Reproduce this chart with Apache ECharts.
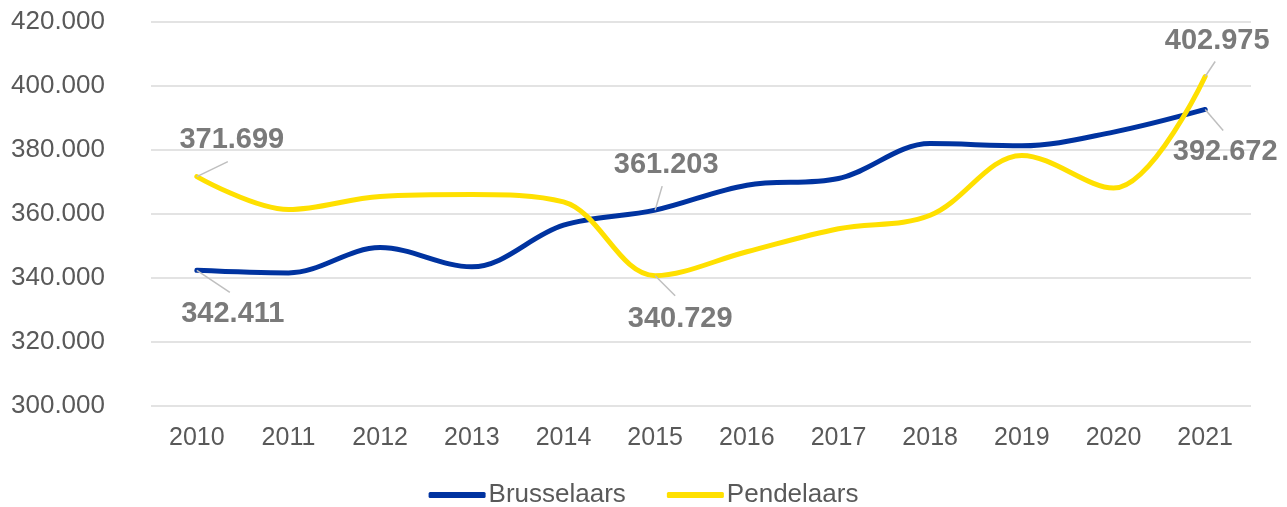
<!DOCTYPE html>
<html>
<head>
<meta charset="utf-8">
<script src="https://cdn.jsdelivr.net/npm/echarts@6/dist/echarts.min.js"></script>
<style>
html,body{margin:0;padding:0;background:#fff;}
#chart{width:1287px;height:507px;}
</style>
</head>
<body>
<div id="chart"></div>
<script>
const years = ['2010','2011','2012','2013','2014','2015','2016','2017','2018','2019','2020','2021'];
const brusselaars = [342.411, 341.6, 349.5, 343.5, 356.5, 361.203, 369.0, 371.1, 382.0, 381.3, 385.6, 392.672];
const pendelaars = [371.699, 361.4, 365.5, 366.1, 363.8, 340.729, 348.2, 355.4, 359.6, 378.3, 368.1, 402.975];
const labelledIndices = [0, 5, 11];

// label placement (style only), pixel offsets from the data point:
// [lineEndDx, lineEndDy, labelDx, labelDy]
const labelPlacement = {
  0: {0: [33, 22, 36, 44], 5: [7, -24, 11, -45], 11: [18, 21, 20, 43]},
  1: {0: [31, -15, 35, -37], 5: [20, 20, 25, 43], 11: [10, -15, 12, -35]}
};

const FONT = 'Liberation Sans, Arial, sans-serif';

const labelData = [];
[brusselaars, pendelaars].forEach((arr, s) => {
  labelledIndices.forEach(i => labelData.push([i, arr[i], s]));
});

const chart = echarts.init(document.getElementById('chart'));
chart.setOption({
  animation: false,
  grid: {left: 151, right: 36, top: 22, bottom: 101},
  legend: {
    top: 477,
    left: 'center',
    itemWidth: 57,
    itemHeight: 6,
    itemGap: 41,
    icon: 'roundRect',
    textStyle: {fontFamily: FONT, fontSize: 26, color: '#595959', padding: [0,0,0,-2]},
    data: ['Brusselaars', 'Pendelaars']
  },
  xAxis: {
    type: 'category',
    data: years,
    boundaryGap: true,
    axisLine: {show: false},
    axisTick: {show: false},
    axisLabel: {fontFamily: FONT, fontSize: 25, color: '#595959', margin: 20}
  },
  yAxis: {
    type: 'value',
    min: 300, max: 420, interval: 20,
    axisLine: {show: false},
    axisTick: {show: false},
    splitLine: {lineStyle: {color: '#e3e3e3', width: 2}},
    axisLabel: {fontFamily: FONT, fontSize: 26, color: '#595959', margin: 46,
      formatter: v => v.toFixed(3)}
  },
  series: [
    {
      name: 'Brusselaars', type: 'line', smooth: 0.35,
      data: brusselaars,
      symbol: 'none',
      lineStyle: {color: '#0033a0', width: 5, cap: 'round'},
      itemStyle: {color: '#0033a0'}
    },
    {
      name: 'Pendelaars', type: 'line', smooth: 0.35,
      data: pendelaars,
      symbol: 'none',
      lineStyle: {color: '#ffe000', width: 5, cap: 'round'},
      itemStyle: {color: '#ffe000'}
    },
    {
      type: 'custom',
      silent: true,
      z: 10,
      data: labelData,
      encode: {x: 0, y: 1},
      renderItem: (params, api) => {
        const idx = api.value(0), val = api.value(1), s = api.value(2);
        const pt = api.coord([idx, val]);
        const pl = labelPlacement[s][idx];
        return {
          type: 'group',
          children: [
            {type: 'line', shape: {x1: pt[0], y1: pt[1], x2: pt[0] + pl[0], y2: pt[1] + pl[1]},
              style: {stroke: '#bfbfbf', lineWidth: 1.5}},
            {type: 'text', style: {text: val.toFixed(3), x: pt[0] + pl[2], y: pt[1] + pl[3],
              align: 'center', verticalAlign: 'middle', font: 'bold 29px ' + FONT, fill: '#7a7a7a'}}
          ]
        };
      }
    }
  ]
});
</script>
</body>
</html>
